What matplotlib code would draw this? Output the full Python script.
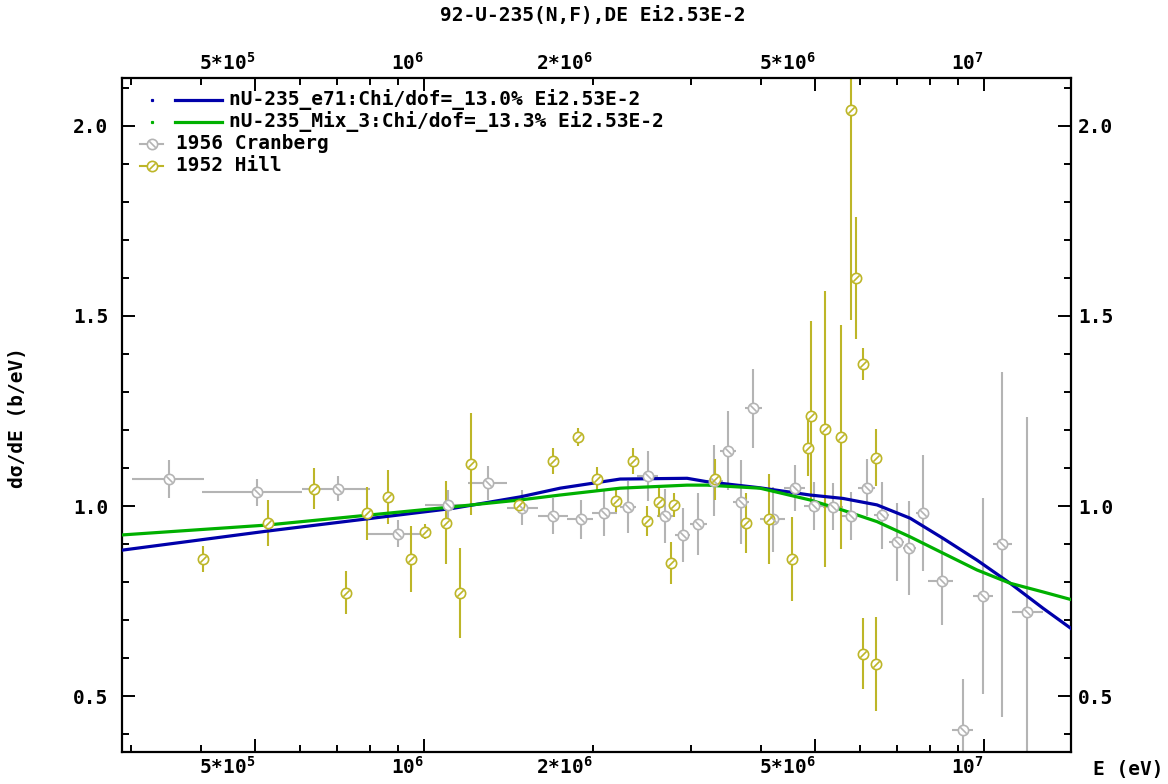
import matplotlib
matplotlib.use("Agg")
import matplotlib.pyplot as plt
from matplotlib.path import Path
from matplotlib.lines import Line2D
from matplotlib.ticker import NullFormatter, NullLocator, FixedLocator
import numpy as np

# ---------------- data ----------------
curve_E = [2.89e5, 5.24e5, 1.127e6, 1.484e6, 1.75e6, 2.24e6, 2.95e6, 3.20e6, 3.98e6,
           4.89e6, 5.60e6, 6.44e6, 7.38e6, 8.45e6, 9.71e6, 1.113e7, 1.275e7, 1.43e7]
e71_vals = [0.884, 0.934, 0.994, 1.024, 1.047, 1.071, 1.073, 1.064, 1.048,
            1.029, 1.020, 1.003, 0.968, 0.915, 0.858, 0.797, 0.731, 0.678]
mix3_vals = [0.924, 0.950, 0.998, 1.016, 1.029, 1.047, 1.055, 1.055, 1.047,
             1.016, 0.989, 0.959, 0.919, 0.876, 0.832, 0.797, 0.774, 0.754]

cran_E = [3.51e5, 5.03e5, 7.01e5, 9.00e5, 1.102e6, 1.303e6, 1.494e6, 1.702e6, 1.905e6,
          2.099e6, 2.311e6, 2.509e6, 2.694e6, 2.897e6, 3.09e6, 3.30e6, 3.495e6, 3.683e6,
          3.873e6, 4.196e6, 4.596e6, 4.97e6, 5.38e6, 5.78e6, 6.17e6, 6.57e6, 6.98e6,
          7.36e6, 7.77e6, 8.41e6, 9.18e6, 9.95e6, 1.076e7, 1.195e7]
cran_Elo = [3.01e5, 4.02e5, 6.05e5, 7.95e5, 1.004e6, 1.200e6, 1.405e6, 1.596e6, 1.799e6,
            1.993e6, 2.239e6, 2.401e6, 2.607e6, 2.807e6, 2.985e6, 3.188e6, 3.378e6, 3.563e6,
            3.743e6, 3.981e6, 4.394e6, 4.771e6, 5.158e6, 5.578e6, 5.957e6, 6.362e6, 6.767e6,
            7.168e6, 7.56e6, 7.943e6, 8.757e6, 9.56e6, 1.036e7, 1.121e7]
cran_Ehi = [4.04e5, 6.05e5, 8.01e5, 9.91e5, 1.200e6, 1.405e6, 1.600e6, 1.810e6, 2.001e6,
            2.211e6, 2.390e6, 2.618e6, 2.784e6, 2.985e6, 3.202e6, 3.42e6, 3.607e6, 3.805e6,
            4.013e6, 4.412e6, 4.791e6, 5.179e6, 5.601e6, 5.982e6, 6.389e6, 6.767e6, 7.197e6,
            7.56e6, 7.977e6, 8.805e6, 9.57e6, 1.036e7, 1.121e7, 1.276e7]
cran_y = [1.070, 1.036, 1.045, 0.927, 1.003, 1.061, 0.996, 0.974, 0.965,
          0.982, 0.998, 1.079, 0.974, 0.924, 0.952, 1.067, 1.146, 1.011,
          1.257, 0.965, 1.048, 1.000, 0.998, 0.974, 1.048, 0.976, 0.906,
          0.889, 0.981, 0.803, 0.412, 0.763, 0.899, 0.722]
cran_dy = [0.050, 0.035, 0.033, 0.035, 0.038, 0.044, 0.045, 0.047, 0.051,
           0.060, 0.068, 0.066, 0.072, 0.072, 0.082, 0.093, 0.105, 0.110,
           0.104, 0.085, 0.060, 0.062, 0.062, 0.064, 0.075, 0.088, 0.103,
           0.123, 0.153, 0.116, 0.132, 0.257, 0.454, 0.512]

hill_E = [4.025e5, 5.26e5, 6.36e5, 7.25e5, 7.92e5, 8.64e5, 9.47e5, 1.004e6, 1.093e6,
          1.160e6, 1.212e6, 1.480e6, 1.702e6, 1.880e6, 2.034e6, 2.202e6, 2.365e6, 2.505e6,
          2.632e6, 2.762e6, 2.80e6, 3.31e6, 3.758e6, 4.136e6, 4.548e6, 4.84e6, 4.91e6,
          5.21e6, 5.55e6, 5.78e6, 5.90e6, 6.09e6, 6.09e6, 6.41e6, 6.41e6]
hill_y = [0.860, 0.956, 1.045, 0.772, 0.981, 1.024, 0.860, 0.932, 0.956,
          0.772, 1.111, 1.003, 1.119, 1.182, 1.070, 1.014, 1.119, 0.961,
          1.011, 0.851, 1.003, 1.070, 0.956, 0.965, 0.861, 1.153, 1.237,
          1.203, 1.182, 2.043, 1.600, 1.374, 0.612, 1.127, 0.584]
hill_dy = [0.034, 0.060, 0.054, 0.056, 0.070, 0.072, 0.087, 0.020, 0.109,
           0.118, 0.135, 0.021, 0.035, 0.024, 0.033, 0.030, 0.034, 0.039,
           0.039, 0.055, 0.031, 0.054, 0.079, 0.118, 0.111, 0.075, 0.250,
           0.363, 0.295, 0.553, 0.160, 0.043, 0.094, 0.075, 0.124]

x_major = [5e5, 1e6, 2e6, 5e6, 1e7]
x_major_labels = [r"5*10$^{5}$", r"10$^{6}$", r"2*10$^{6}$", r"5*10$^{6}$", r"10$^{7}$"]
x_minor = [3e5, 4e5, 6e5, 7e5, 8e5, 9e5, 3e6, 4e6, 6e6, 7e6, 8e6, 9e6]
y_major = [0.5, 1.0, 1.5, 2.0]
y_major_labels = ["0.5", "1.0", "1.5", "2.0"]
y_minor = [0.4, 0.6, 0.7, 0.8, 0.9, 1.1, 1.2, 1.3, 1.4, 1.6, 1.7, 1.8, 1.9, 2.1]

title = "92-U-235(N,F),DE Ei2.53E-2"
curve_labels = ["nU-235_e71:Chi/dof=_13.0% Ei2.53E-2",
                "nU-235_Mix_3:Chi/dof=_13.3% Ei2.53E-2"]
data_labels = ["1956 Cranberg", "1952 Hill"]

# ---------------- style ----------------
C_BLUE = "#0000aa"
C_GREEN = "#00b000"
C_GRAY = "#b4b4b4"
C_OLIVE = "#bdb628"

plt.rcParams["font.family"] = ["DejaVu Sans Mono", "DejaVu Sans"]
plt.rcParams["font.weight"] = "bold"
plt.rcParams["mathtext.fontset"] = "custom"
plt.rcParams["mathtext.rm"] = "DejaVu Sans Mono:bold"
plt.rcParams["mathtext.default"] = "rm"
FS = 14

W, H = 1168, 784
L, R, T, B = 122, 1071, 78, 752
fig = plt.figure(figsize=(W / 100, H / 100), dpi=100)
ax = fig.add_axes([L / W, 1 - B / H, (R - L) / W, (B - T) / H])
ax.set_xscale("log")
ax.set_xlim(2.888e5, 1.430e7)
ax.set_ylim(0.353, 2.126)

for s in ax.spines.values():
    s.set_linewidth(1.6)
    s.set_color("black")

slash_f = Path([(-1, -1), (1, 1)], [Path.MOVETO, Path.LINETO])   # '/'
slash_b = Path([(-1, 1), (1, -1)], [Path.MOVETO, Path.LINETO])   # '\'
MS = 7.4
MEW = 1.2

# curves
ax.plot(curve_E, e71_vals, color=C_BLUE, lw=2.3, zorder=3)
ax.plot(curve_E, mix3_vals, color=C_GREEN, lw=2.3, zorder=3)

# Cranberg
cE = np.array(cran_E)
ax.errorbar(cran_E, cran_y, yerr=cran_dy,
            xerr=[cE - np.array(cran_Elo), np.array(cran_Ehi) - cE],
            fmt="none", ecolor=C_GRAY, elinewidth=1.5, capsize=0, zorder=2)
ax.plot(cran_E, cran_y, ls="none", marker="o", ms=MS, mfc="white", mec=C_GRAY, mew=MEW, zorder=4)
ax.plot(cran_E, cran_y, ls="none", marker=slash_b, ms=MS * 0.62, mec=C_GRAY, mew=MEW, zorder=5)

# Hill
ax.errorbar(hill_E, hill_y, yerr=hill_dy, fmt="none", ecolor=C_OLIVE, elinewidth=1.5,
            capsize=0, zorder=2)
ax.plot(hill_E, hill_y, ls="none", marker="o", ms=MS, mfc="white", mec=C_OLIVE, mew=MEW, zorder=4)
ax.plot(hill_E, hill_y, ls="none", marker=slash_f, ms=MS * 0.62, mec=C_OLIVE, mew=MEW, zorder=5)

# ticks
ax.set_xticks(x_major)
ax.set_xticklabels(x_major_labels)
ax.xaxis.set_minor_locator(FixedLocator(x_minor))
ax.xaxis.set_minor_formatter(NullFormatter())
ax.set_yticks(y_major)
ax.set_yticklabels(y_major_labels)
ax.yaxis.set_minor_locator(FixedLocator(y_minor))
ax.tick_params(axis="both", which="both", direction="in", top=True, right=True,
               width=1.4, labelsize=FS, colors="black")
ax.tick_params(axis="both", which="major", length=9.5)
ax.tick_params(axis="both", which="minor", length=5)
ax.tick_params(axis="x", labeltop=True, labelbottom=True, pad=3)
ax.tick_params(axis="y", labelleft=True, labelright=False, pad=10)
for i, t in enumerate(ax.xaxis.get_major_ticks()):
    t.label1.set_horizontalalignment("right")
    t.label2.set_horizontalalignment("right")
    if x_major[i] == 2e6:
        t.tick1line.set_markersize(5)
        t.tick2line.set_markersize(5)

sec = ax.secondary_yaxis("right")
sec.set_yticks(y_major)
sec.set_yticklabels(y_major_labels)
sec.yaxis.set_minor_locator(NullLocator())
sec.tick_params(axis="y", length=0, pad=5, labelsize=FS)
sec.spines["right"].set_visible(False)

# texts
fig.text(593 / W, 1 - 16 / H, title, ha="center", va="center", fontsize=FS)
fig.text(18 / W, 1 - 417 / H, "dσ/dE (b/eV)", rotation=90, ha="center", va="center", fontsize=FS)
fig.text(1093 / W, 1 - 770 / H, "E (eV)", ha="left", va="center", fontsize=FS)

# legend (drawn in axes-fraction coordinates)
def ax_xy(px, py):
    return (px - L) / (R - L), (B - py) / (B - T)

tr = ax.transAxes
rows_y = [100, 122, 144, 166]
for lab, col, py in zip(curve_labels, [C_BLUE, C_GREEN], rows_y[:2]):
    x0, y0 = ax_xy(152, py)
    ax.add_line(Line2D([x0], [y0], ls="none", marker="s", ms=1.3, mfc=col, mec=col,
                       transform=tr, zorder=6))
    xa, _ = ax_xy(175, py)
    xb, _ = ax_xy(222, py)
    ax.add_line(Line2D([xa, xb], [y0, y0], color=col, lw=2.3, transform=tr, zorder=6))
    xt, _ = ax_xy(229, py)
    ax.text(xt, y0, lab, transform=tr, ha="left", va="center", fontsize=FS, zorder=6)

for lab, col, mk, py in zip(data_labels, [C_GRAY, C_OLIVE], [slash_b, slash_f], rows_y[2:]):
    xa, y0 = ax_xy(140, py)
    xb, _ = ax_xy(163, py)
    xm, _ = ax_xy(151.5, py)
    ax.add_line(Line2D([xa, xb], [y0, y0], color=col, lw=1.5, transform=tr, zorder=6))
    ax.add_line(Line2D([xm], [y0], ls="none", marker="o", ms=MS, mfc="white", mec=col,
                       mew=MEW, transform=tr, zorder=7))
    ax.add_line(Line2D([xm], [y0], ls="none", marker=mk, ms=MS * 0.62, mec=col,
                       mew=MEW, transform=tr, zorder=8))
    xt, _ = ax_xy(176, py)
    ax.text(xt, y0, lab, transform=tr, ha="left", va="center", fontsize=FS, zorder=6)

fig.savefig("out.png", dpi=100)
